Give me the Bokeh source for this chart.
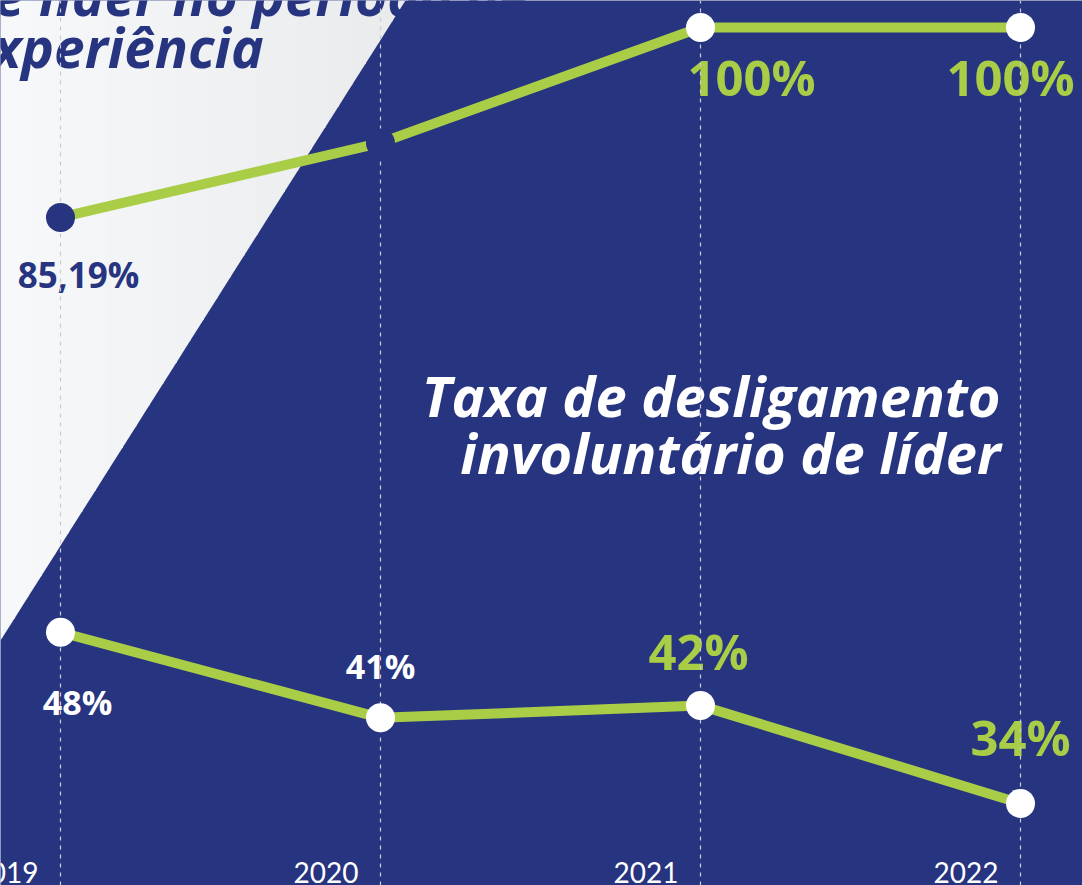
from bokeh.plotting import figure
from bokeh.models import Range1d
from bokeh.core.properties import value
from bokeh.embed import file_html
from bokeh.resources import INLINE

# ---------------- data ----------------
years = [2019, 2020, 2021, 2022]
year_labels = ["2019", "2020", "2021", "2022"]
efetivacao = [85.19, 91.0, 100.0, 100.0]          # top series (%)
efetivacao_labels = ["85,19%", "", "100%", "100%"]
desligamento = [48, 41, 42, 34]                     # bottom series (%)
desligamento_labels = ["48%", "41%", "42%", "34%"]

title_left = ["de líder no período de", "experiência"]
title_right = ["Taxa de desligamento", "involuntário de líder"]

# ---------------- style ----------------
BG = "#27347f"
GREEN = "#a9cd46"
WHITE = "#ffffff"
W, H = 1082, 885
FONT = "Open Sans"
BASE_FIX = 0.38   # baseline correction (fraction of font size)

x0, x1 = 2018.8125, 2018.8125 + W / 320.0
y_top = (33.12, 102.1)
y_low = (27.28, 99.7)

p = figure(width=W, height=H, output_backend="svg", toolbar_location=None,
           x_range=Range1d(x0, x1), y_range=Range1d(*y_top),
           min_border=0, background_fill_color=BG, border_fill_color=BG,
           outline_line_color=None)
p.extra_y_ranges = {"low": Range1d(*y_low)}
p.xaxis.visible = False
p.yaxis.visible = False
p.grid.visible = False


def px_x(px):
    return x0 + px * (x1 - x0) / W


def px_y(py):
    return y_top[1] - py * (y_top[1] - y_top[0]) / H


# light triangular panel (approximate left-to-right gradient)
n = 30
tri_w, tri_h = 405.0, 640.0
c0 = (247, 248, 249)
c1 = (233, 235, 237)
xs, ys, cols = [], [], []
for i in range(n):
    a = tri_w * i / n
    b = min(tri_w * (i + 1) / n + 0.8, tri_w)
    ha = tri_h * (1 - a / tri_w)
    hb = tri_h * (1 - b / tri_w)
    xs.append([px_x(a), px_x(b), px_x(b), px_x(a)])
    ys.append([px_y(0), px_y(0), px_y(hb), px_y(ha)])
    t = i / (n - 1)
    c = tuple(int(round(c0[k] + (c1[k] - c0[k]) * t)) for k in range(3))
    cols.append("#%02x%02x%02x" % c)
p.patches(xs, ys, fill_color=cols, line_color=None)


def label(x, y, txt, size, color, align="left", style="bold", font=FONT,
          dx=0, dy=0, **kw):
    p.text(x=x, y=y, text=txt, x_offset=dx, y_offset=dy - BASE_FIX * size,
           text_font=value(font), text_font_style=style,
           text_font_size=f"{size}px", text_color=color,
           text_align=align, text_baseline="alphabetic", **kw)


# left title (dark blue, partially off-canvas)
label([px_x(-39)], [px_y(15)], [title_left[0]], 55, BG, style="bold italic")
label([px_x(-39)], [px_y(67)], [title_left[1]], 55, BG, style="bold italic")

# right title
label([px_x(1000)], [px_y(416)], [title_right[0]], 56, WHITE, align="right", style="bold italic")
label([px_x(1000)], [px_y(473)], [title_right[1]], 56, WHITE, align="right", style="bold italic")

# lines
p.line(years, efetivacao, line_color=GREEN, line_width=10)
p.line(years, desligamento, line_color=GREEN, line_width=10, y_range_name="low")

# value labels (top series)
top_style = [
    dict(color=BG, size=35, dx=18, dy=70),
    None,
    dict(color=GREEN, size=49, dx=51, dy=68),
    dict(color=GREEN, size=49, dx=-10, dy=68),
]
for yr, v, lab, st in zip(years, efetivacao, efetivacao_labels, top_style):
    if st is None or not lab:
        continue
    label([yr], [v], [lab], st["size"], st["color"], align="center",
          dx=st["dx"], dy=st["dy"])

low_style = [
    dict(color=WHITE, size=34, dx=17, dy=83),
    dict(color=WHITE, size=34, dx=0, dy=-39),
    dict(color=GREEN, size=49, dx=-2, dy=-36),
    dict(color=GREEN, size=49, dx=0, dy=-48),
]
for yr, v, lab, st in zip(years, desligamento, desligamento_labels, low_style):
    label([yr], [v], [lab], st["size"], st["color"], align="center",
          dx=st["dx"], dy=st["dy"], y_range_name="low")

# dashed year guides (drawn over labels, below markers)
p.segment(x0=years, y0=[y_top[0]] * 4, x1=years, y1=[y_top[1]] * 4,
          line_color="#c9cbd8", line_width=1.2, line_dash="4 5")

# year tick labels
label(years, [px_y(883)] * 4, year_labels, 28, WHITE, align="right",
      style="normal", font="Lato", dx=-22)

# markers
p.scatter(years, efetivacao, size=29, fill_color=[BG, BG, WHITE, WHITE], line_color=None)
p.scatter(years, desligamento, size=29, fill_color=WHITE, line_color=None, y_range_name="low")

open("out.html", "w").write(file_html(p, INLINE))
